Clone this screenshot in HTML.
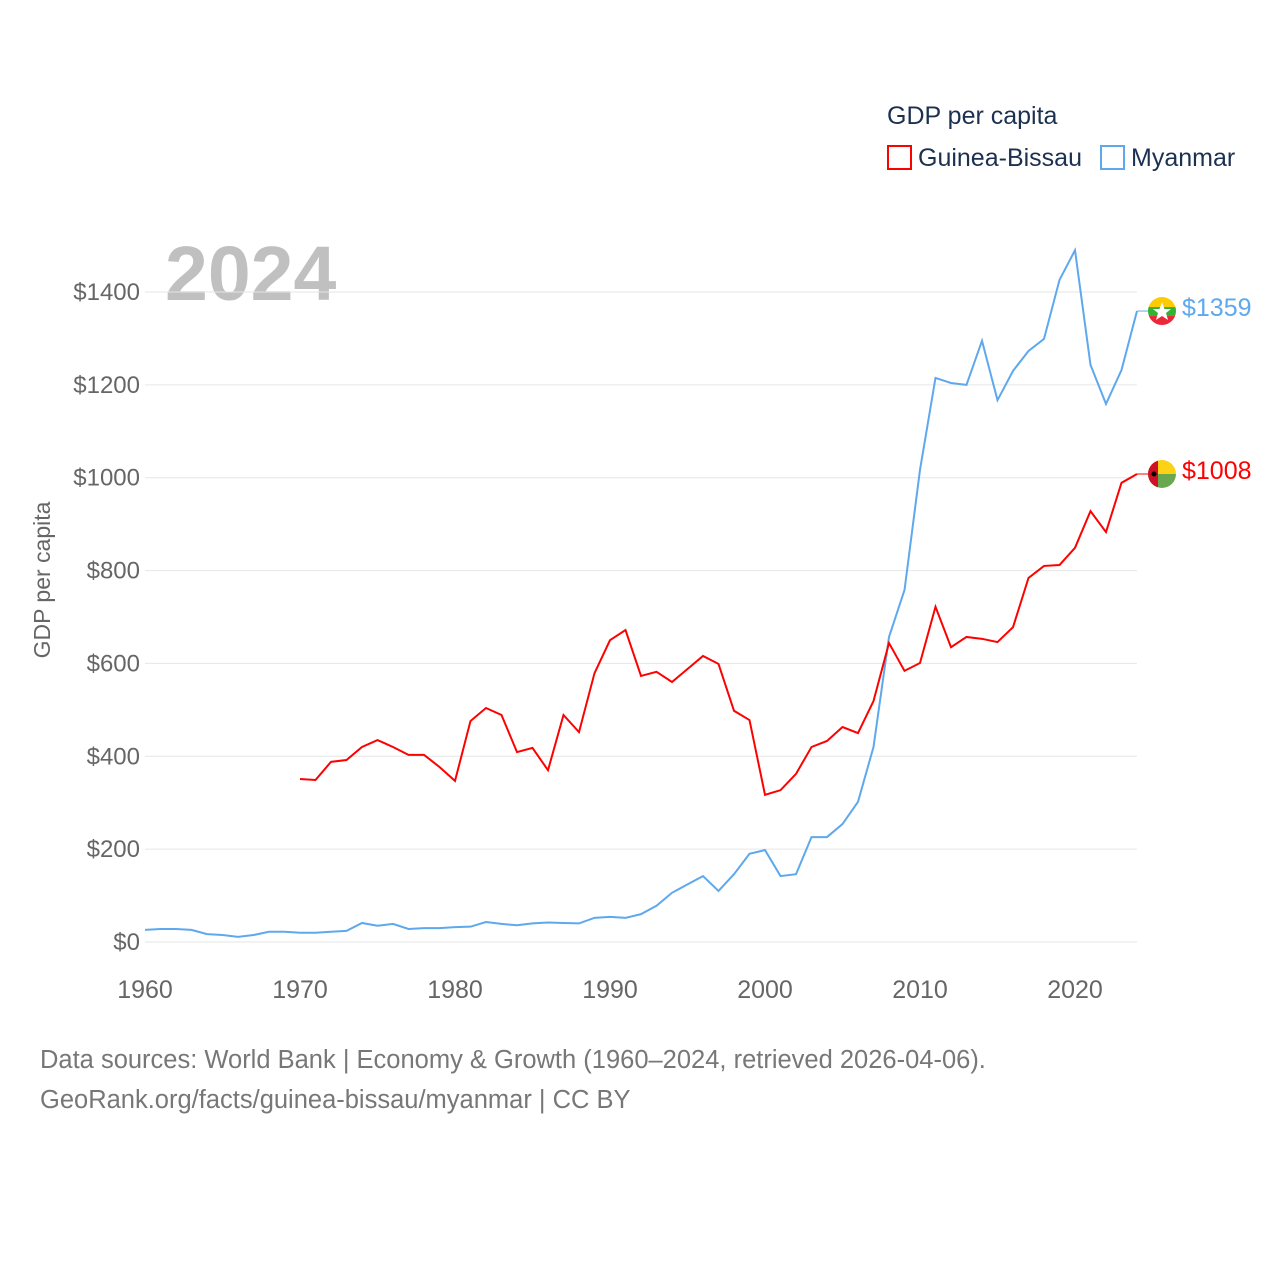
<!DOCTYPE html>
<html><head><meta charset="utf-8"><style>
body{margin:0;background:#fff;}
svg{display:block;font-family:"Liberation Sans",sans-serif;}
</style></head><body>
<svg id="chart" width="1280" height="1280" viewBox="0 0 1280 1280">
<text x="887" y="124" font-size="25" fill="#1c3050">GDP per capita</text>
<rect x="888" y="146" width="23" height="23" fill="none" stroke="#ff0000" stroke-width="2"/>
<text x="918" y="166" font-size="25" fill="#1c3050">Guinea-Bissau</text>
<rect x="1101" y="146" width="23" height="23" fill="none" stroke="#5ea8ee" stroke-width="2"/>
<text x="1131" y="166" font-size="25" fill="#1c3050">Myanmar</text>
<text x="165" y="300" font-size="77" font-weight="bold" fill="#c0c0c0">2024</text>
<text transform="translate(50,580) rotate(-90)" text-anchor="middle" font-size="23" fill="#666">GDP per capita</text>
<g id="grid"></g><g id="series"></g>
<text x="40" y="1068" font-size="25.5" fill="#777">Data sources: World Bank | Economy &amp; Growth (1960–2024, retrieved 2026-04-06).</text>
<text x="40" y="1108" font-size="25.5" fill="#777">GeoRank.org/facts/guinea-bissau/myanmar | CC BY</text>
</svg>
<script>
const yTicks=[0,200,400,600,800,1000,1200,1400];
const xTicks=[1960,1970,1980,1990,2000,2010,2020];
const mmYears=[];for(let y=1960;y<=2024;y++)mmYears.push(y);
const gbYears=[];for(let y=1970;y<=2024;y++)gbYears.push(y);
const myanmar=[26,28,28,26,17,15,11,15,22,22,20,20,22,24,41,35,39,28,30,30,32,33,43,39,36,40,42,41,40,52,54,52,60,78,106,124,142,110,146,190,198,142,146,226,226,254,302,420,657,758,1017,1215,1204,1200,1295,1167,1230,1273,1299,1426,1490,1243,1159,1232,1359];
const guinea=[351,349,388,392,420,435,420,403,403,377,347,476,504,489,409,418,370,489,452,579,650,672,573,582,560,588,616,599,498,478,317,327,362,420,433,463,450,519,644,584,601,722,635,657,653,646,678,784,810,812,849,928,883,989,1008];
const X=v=>145+(v-1960)*15.5;
const Y=v=>942-v*650/1400;
const NS="http://www.w3.org/2000/svg";
const grid=document.getElementById('grid'),ser=document.getElementById('series');
function mk(tag,at,parent){const e=document.createElementNS(NS,tag);for(const k in at)e.setAttribute(k,at[k]);parent.appendChild(e);return e;}
yTicks.forEach(t=>{
 const l=mk('line',{x1:145,x2:1137,y1:Y(t),y2:Y(t),stroke:'#e6e6e6','stroke-width':1},grid);
 
 
 const tx=mk('text',{x:140,y:Y(t)+8,'text-anchor':'end','font-size':24,fill:'#666'},grid);
 tx.textContent='$'+t;
 
 
});
xTicks.forEach(t=>{
 const tx=mk('text',{x:X(t),y:998,'text-anchor':'middle','font-size':25,fill:'#666'},grid);
 tx.textContent=t;
 
 
});
function series(years,vals,color,name){
 const d=vals.map((v,i)=>(i?'L':'M')+X(years[i])+','+Y(v)).join('');
 const p=mk('path',{d:d,fill:'none',stroke:color,'stroke-width':2},ser);
 
 
 const last=vals[vals.length-1],lx=X(years[years.length-1]),ly=Y(last);
 mk('line',{x1:lx,x2:1150,y1:ly,y2:ly,stroke:color,'stroke-width':1},ser);
 const lb=mk('text',{x:1182,y:ly+5,'font-size':25,fill:color},ser);
 lb.textContent='$'+last;
 
 
 return ly;
}
const my=series(mmYears,myanmar,'#5ea8ee','myanmar');
const gy=series(gbYears,guinea,'#ff0000','guinea-bissau');
let g=mk('g',{},ser);


const cp1=mk('clipPath',{id:'c1'},g);mk('circle',{cx:1162,cy:my,r:14},cp1);
const f1=mk('g',{'clip-path':'url(#c1)'},g);
mk('rect',{x:1148,y:my-14,width:28,height:10,fill:'#fecb00'},f1);
mk('rect',{x:1148,y:my-4,width:28,height:9,fill:'#34b233'},f1);
mk('rect',{x:1148,y:my+5,width:28,height:10,fill:'#ea2839'},f1);
mk('polygon',{points:`1162,${my-9} 1164.5,${my-2} 1171,${my-2} 1166,${my+2} 1168,${my+9} 1162,${my+5} 1156,${my+9} 1158,${my+2} 1153,${my-2} 1159.5,${my-2}`,fill:'#fff'},f1);
g=mk('g',{},ser);


const cp=mk('clipPath',{id:'c2'},g);mk('circle',{cx:1162,cy:gy,r:14},cp);
const f2=mk('g',{'clip-path':'url(#c2)'},g);
mk('rect',{x:1148,y:gy-14,width:28,height:14,fill:'#fcd116'},f2);
mk('rect',{x:1148,y:gy,width:28,height:15,fill:'#6aa84f'},f2);
mk('rect',{x:1148,y:gy-14,width:10,height:28,fill:'#ce1126'},f2);
mk('circle',{cx:1154,cy:gy,r:2.5,fill:'#000'},f2);
</script>
</body></html>
